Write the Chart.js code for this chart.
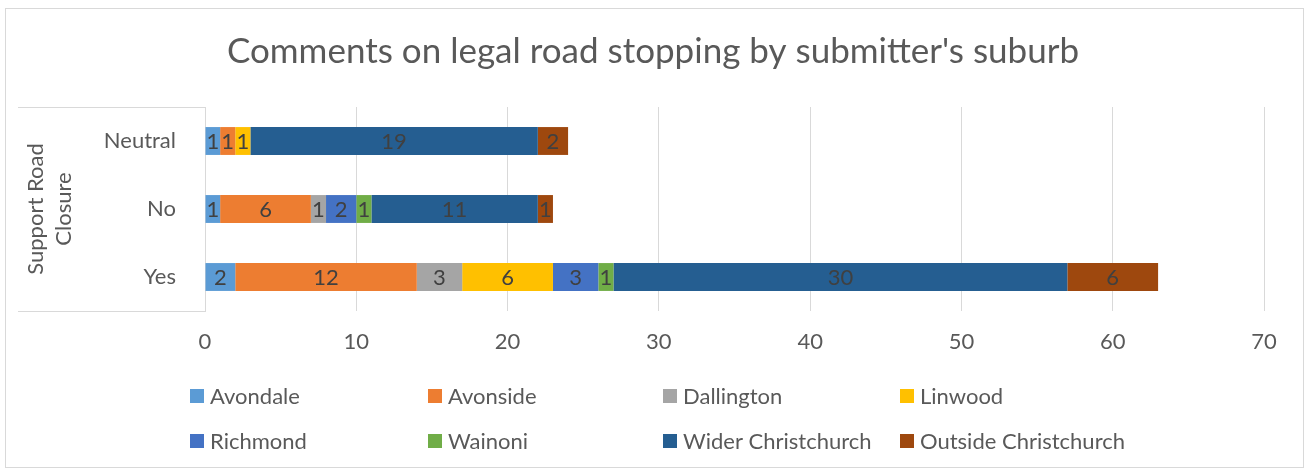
<!DOCTYPE html>
<html>
<head>
<meta charset="utf-8">
<title>Comments on legal road stopping by submitter's suburb</title>
<script src="https://cdn.jsdelivr.net/npm/chart.js@4.4.1/dist/chart.umd.min.js"></script>
<style>
  html, body { margin: 0; padding: 0; background: #fff; }
  #chart { display: block; }
</style>
</head>
<body>
<canvas id="chart" width="1306" height="470"></canvas>
<script>
  const categories = ["Neutral", "No", "Yes"];
  const xTickMax = 70;
  const xTickStep = 10;

  const suburbNames = [
    "Avondale", "Avonside", "Dallington", "Linwood",
    "Richmond", "Wainoni", "Wider Christchurch", "Outside Christchurch",
  ];
  const suburbColors = [
    "#5B9BD5", "#ED7D31", "#A5A5A5", "#FFC000",
    "#4472C4", "#70AD47", "#255E91", "#9E480E",
  ];

  // values per category: Neutral, No, Yes
  const avondale = [1, 1, 2];
  const avonside = [1, 6, 12];
  const dallington = [0, 1, 3];
  const linwood = [1, 0, 6];
  const richmond = [0, 2, 3];
  const wainoni = [0, 1, 1];
  const widerChristchurch = [19, 11, 30];
  const outsideChristchurch = [2, 1, 6];

  const seriesValues = [
    avondale, avonside, dallington, linwood,
    richmond, wainoni, widerChristchurch, outsideChristchurch,
  ];

  const FONT = "Lato, 'Open Sans', sans-serif";
  const TEXT_COLOR = "#595959";
  const LABEL_COLOR = "#404040";
  const GRID_COLOR = "#D9D9D9";

  Chart.defaults.font.family = FONT;
  Chart.defaults.color = TEXT_COLOR;

  // value labels in the middle of each segment
  const segmentLabels = {
    id: "segmentLabels",
    afterDatasetsDraw(chart) {
      const ctx = chart.ctx;
      ctx.save();
      ctx.font = `22px ${FONT}`;
      ctx.fillStyle = LABEL_COLOR;
      ctx.textAlign = "center";
      ctx.textBaseline = "middle";
      chart.data.datasets.forEach((ds, i) => {
        const meta = chart.getDatasetMeta(i);
        meta.data.forEach((bar, j) => {
          const v = ds.data[j];
          if (!v) return;
          const p = bar.getCenterPoint();
          ctx.fillText(String(v), p.x, p.y + 1);
        });
      });
      ctx.restore();
    },
  };

  // grid-style legend (4 columns x 2 rows) plus outer frame and axis bracket
  const frameAndLegend = {
    id: "frameAndLegend",
    afterDraw(chart) {
      const ctx = chart.ctx;
      const area = chart.chartArea;
      ctx.save();

      ctx.strokeStyle = GRID_COLOR;
      ctx.lineWidth = 1;
      ctx.strokeRect(5.5, 8.5, chart.width - 8, chart.height - 11);

      ctx.beginPath();
      ctx.moveTo(18, area.top + 0.5);
      ctx.lineTo(area.left, area.top + 0.5);
      ctx.moveTo(18, area.bottom + 0.5);
      ctx.lineTo(area.left, area.bottom + 0.5);
      ctx.stroke();

      const colX = [190, 428, 663, 900];
      const rowY = [396, 441];
      ctx.font = `22px ${FONT}`;
      ctx.textAlign = "left";
      ctx.textBaseline = "middle";
      chart.data.datasets.forEach((ds, i) => {
        const x = colX[i % 4];
        const y = rowY[Math.floor(i / 4)];
        ctx.fillStyle = ds.backgroundColor;
        ctx.fillRect(x, y - 7, 14, 14);
        ctx.fillStyle = TEXT_COLOR;
        ctx.fillText(ds.label, x + 20, y + 1);
      });
      ctx.restore();
    },
  };

  new Chart(document.getElementById("chart"), {
    type: "bar",
    data: {
      labels: categories,
      datasets: suburbNames.map((name, i) => ({
        label: name,
        data: seriesValues[i],
        backgroundColor: suburbColors[i],
        borderWidth: 0,
        categoryPercentage: 1,
        barPercentage: 0.41,
      })),
    },
    options: {
      indexAxis: "y",
      responsive: false,
      animation: false,
      layout: { padding: { left: 21, right: 21, top: 0, bottom: 99 } },
      plugins: {
        legend: { display: false },
        tooltip: { enabled: false },
        title: {
          display: true,
          text: "Comments on legal road stopping by submitter's suburb",
          color: TEXT_COLOR,
          font: { size: 35, weight: "normal", family: FONT },
          padding: { top: 31, bottom: 34 },
        },
      },
      scales: {
        x: {
          stacked: true,
          min: 0,
          max: xTickMax,
          ticks: { stepSize: xTickStep, padding: 18, font: { size: 22 }, color: TEXT_COLOR },
          grid: { color: GRID_COLOR, drawTicks: false },
          border: { display: false },
          afterFit(scale) { scale.height = 60; },
        },
        y: {
          stacked: true,
          ticks: { padding: 29, font: { size: 22 }, color: TEXT_COLOR },
          grid: { display: false, drawTicks: false },
          border: { display: true, color: GRID_COLOR },
          title: {
            display: true,
            text: ["Support Road", "Closure"],
            color: TEXT_COLOR,
            font: { size: 22, lineHeight: "28px" },
            padding: { top: 1, bottom: 0 },
          },
          afterFit(scale) { scale.width = 184; },
        },
        // empty spacer on the right so the plot ends where the reference does
        yRight: {
          axis: "y",
          position: "right",
          ticks: { display: false },
          grid: { display: false, drawTicks: false },
          border: { display: false },
          afterFit(scale) { scale.width = 21; },
        },
      },
    },
    plugins: [segmentLabels, frameAndLegend],
  });
</script>
</body>
</html>
